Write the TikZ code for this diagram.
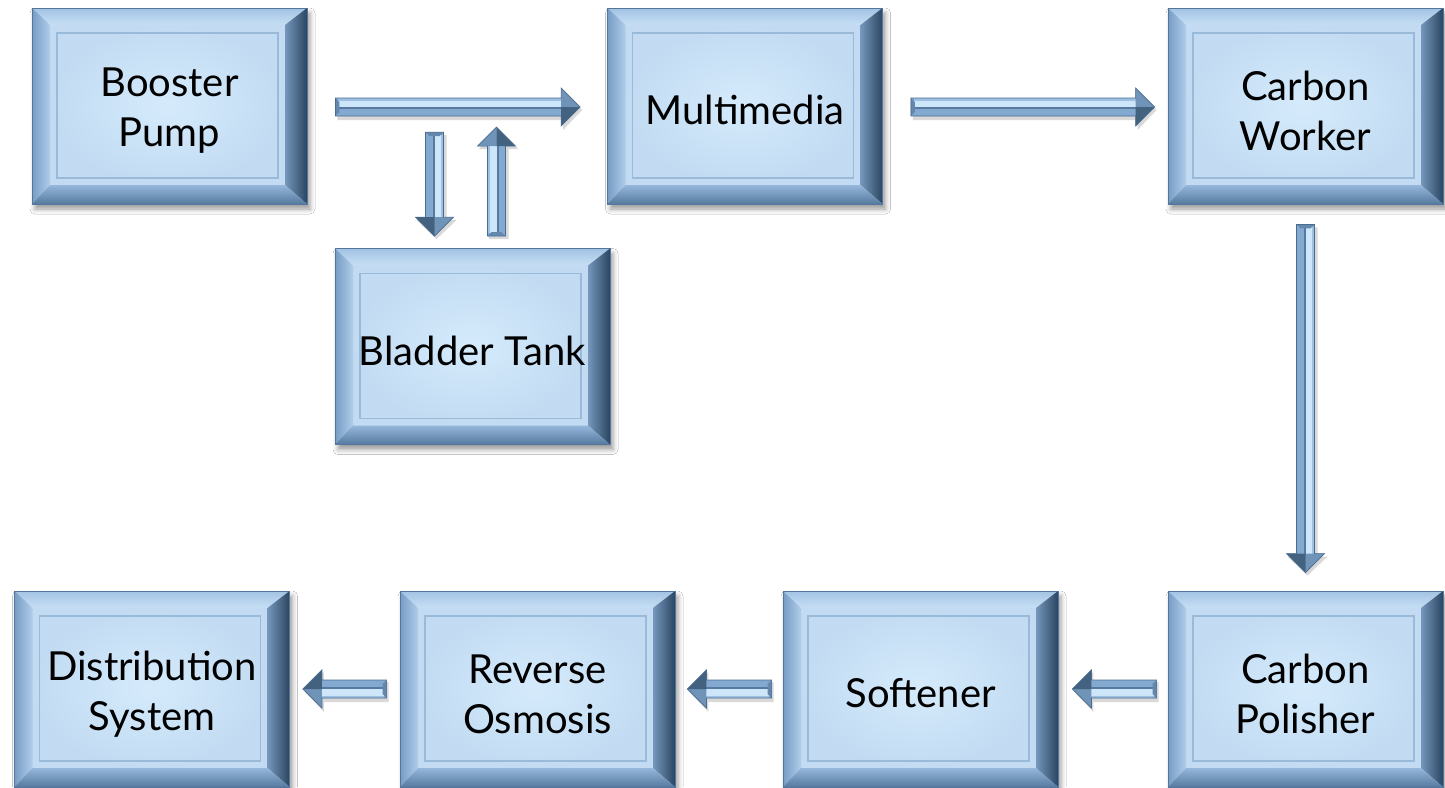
\documentclass[tikz,border=0pt]{standalone}
\usepackage{fontspec}
\setmainfont{Lato}
\usetikzlibrary{calc,shadows.blur}

% palette
\definecolor{faceHi}{HTML}{D5EBFC}
\definecolor{faceLo}{HTML}{C2DBF2}
\definecolor{frameLine}{HTML}{9ABAD9}
\definecolor{bevTopA}{HTML}{A3C3E4}
\definecolor{bevTopB}{HTML}{C6DFF5}
\definecolor{bevLeftA}{HTML}{779CC4}
\definecolor{bevLeftB}{HTML}{B0CDEB}
\definecolor{bevRightA}{HTML}{2B4561}
\definecolor{bevRightB}{HTML}{7597BB}
\definecolor{bevBotA}{HTML}{56799F}
\definecolor{bevBotB}{HTML}{95B7DB}
\definecolor{rimLine}{HTML}{55769C}
\definecolor{arrBase}{HTML}{84A9D0}
\definecolor{arrEdge}{HTML}{4A6C90}
\definecolor{arrBright}{HTML}{CDE6FA}
\definecolor{arrTopBand}{HTML}{9DC0E3}
\definecolor{arrDark}{HTML}{56799D}
\definecolor{arrHeadUp}{HTML}{7093B8}
\definecolor{arrHeadLo}{HTML}{42627F}
\definecolor{arrTail}{HTML}{6487AC}

\tikzset{
  panel/.style={
    minimum width=275pt, minimum height=196pt, inner sep=0pt,
    fill=faceLo, draw=rimLine, line width=0.8pt,
    blur shadow={shadow xshift=3pt, shadow yshift=-5pt,
                 shadow blur radius=5pt, shadow opacity=40},
    path picture={
      \coordinate (pNW) at (path picture bounding box.north west);
      \coordinate (pSE) at (path picture bounding box.south east);
      \coordinate (pNE) at (pNW -| pSE);
      \coordinate (pSW) at (pNW |- pSE);
      \coordinate (qNW) at ($(pNW)+(18pt,-17pt)$);
      \coordinate (qNE) at ($(pNE)+(-22pt,-17pt)$);
      \coordinate (qSE) at ($(pSE)+(-22pt,19pt)$);
      \coordinate (qSW) at ($(pSW)+(18pt,19pt)$);
      \shade[inner color=faceHi, outer color=faceLo] (qNW) rectangle (qSE);
      \shade[top color=bevTopA, bottom color=bevTopB]
        (pNW) -- (pNE) -- (qNE) -- (qNW) -- cycle;
      \shade[left color=bevLeftA, right color=bevLeftB]
        (pNW) -- (qNW) -- (qSW) -- (pSW) -- cycle;
      \shade[left color=bevRightB, right color=bevRightA]
        (pNE) -- (pSE) -- (qSE) -- (qNE) -- cycle;
      \shade[top color=bevBotB, bottom color=bevBotA]
        (pSW) -- (qSW) -- (qSE) -- (pSE) -- cycle;
      \draw[frameLine, line width=1.3pt]
        ($(qNW)+(7pt,-8pt)$) rectangle ($(qSE)+(-7pt,7pt)$);
    }
  },
  caption/.style={
    align=center, text=black, inner sep=0pt,
    font=\fontsize{40}{50}\selectfont
  }
}

% bevelled block arrow from a tail point to a tip point
\newcommand\flowarrow[2]{%
  \path (#1); \pgfgetlastxy{\fax}{\fay}%
  \path (#2); \pgfgetlastxy{\fbx}{\fby}%
  \pgfmathsetmacro\flen{veclen(\fbx-\fax,\fby-\fay)}%
  \pgfmathsetmacro\fang{atan2(\fby-\fay,\fbx-\fax)}%
  \pgfmathsetmacro\fbase{\flen-19}%
  \begin{scope}[xshift=2pt, yshift=-3pt, shift={(\fax,\fay)}, rotate=\fang]
    \fill[black, opacity=0.15]
      (0pt,10pt) -- (\fbase pt,10pt) -- (\fbase pt,20pt) -- (\flen pt,0pt)
      -- (\fbase pt,-20pt) -- (\fbase pt,-10pt) -- (0pt,-10pt) -- cycle;
  \end{scope}
  \begin{scope}[shift={(\fax,\fay)}, rotate=\fang]
    \fill[arrBase]
      (0pt,9pt) -- (\fbase pt,9pt) -- (\fbase pt,19pt) -- (\flen pt,0pt)
      -- (\fbase pt,-19pt) -- (\fbase pt,-9pt) -- (0pt,-9pt) -- cycle;
    \fill[arrTopBand] (3pt,6.5pt) rectangle (\fbase pt,9pt);
    \fill[arrBright] (3pt,0pt) rectangle (\fbase pt,6.5pt);
    \fill[arrDark] (3pt,-2pt) rectangle (\fbase pt,0pt);
    \fill[arrHeadUp] (\fbase pt,19pt) -- (\flen pt,0pt) -- (\fbase pt,0pt) -- cycle;
    \fill[arrHeadLo] (\fbase pt,-19pt) -- (\flen pt,0pt) -- (\fbase pt,0pt) -- cycle;
    \fill[arrTail] (0pt,9pt) -- (4pt,5pt) -- (4pt,-5pt) -- (0pt,-9pt) -- cycle;
    \draw[arrEdge, line width=0.7pt, line join=miter]
      (0pt,9pt) -- (\fbase pt,9pt) -- (\fbase pt,19pt) -- (\flen pt,0pt)
      -- (\fbase pt,-19pt) -- (\fbase pt,-9pt) -- (0pt,-9pt) -- cycle;
  \end{scope}}

\begin{document}
\begin{tikzpicture}[x=1pt, y=-1pt]
  \fill[white] (0,0) rectangle (1445,787);
  \useasboundingbox (0,0) rectangle (1445,787);

  % process stages
  \node[panel] (bp) at (169.5,106)   {};
  \node[panel] (mm) at (745,106)     {};
  \node[panel] (cw) at (1305.5,106)  {};
  \node[panel] (bt) at (472.5,346.5) {};
  \node[panel] (ds) at (152,689)     {};
  \node[panel] (ro) at (537.5,689)   {};
  \node[panel] (so) at (920.5,689)   {};
  \node[panel] (cp) at (1305.5,689)  {};

  % stage names, set slightly below each panel centre
  \node[caption] (bpText) at ($(bp.center)+(0,5)$) {Booster\\Pump};
  \node[caption] (mmText) at ($(mm.center)+(0,4)$) {Multimedia};
  \node[caption] (cwText) at ($(cw.center)+(0,5)$) {Carbon\\Worker};
  \node[caption] (btText) at ($(bt.center)+(0,4)$) {Bladder Tank};
  \node[caption] (dsText) at ($(ds.center)+(0,5)$) {Distribution\\System};
  \node[caption] (roText) at ($(ro.center)+(0,5)$) {Reverse\\Osmosis};
  \node[caption] (soText) at ($(so.center)+(0,4)$) {Softener};
  \node[caption] (cpText) at ($(cp.center)+(0,5)$) {Carbon\\Polisher};

  % flow between stages
  \flowarrow{$(bp.east)+(28,1)$}{$(mm.west)+(-27,1)$}
  \flowarrow{$(bt.north)+(-38,-116)$}{$(bt.north)+(-38,-12)$}
  \flowarrow{$(bt.north)+(24,-12)$}{$(bt.north)+(24,-121)$}
  \flowarrow{$(mm.east)+(28,1)$}{$(cw.west)+(-13,1)$}
  \flowarrow{$(cw.south)+(0,20)$}{$(cp.north)+(0,-18)$}
  \flowarrow{$(cp.west)+(-11,0)$}{$(so.east)+(14,0)$}
  \flowarrow{$(so.west)+(-11,0)$}{$(ro.east)+(12,0)$}
  \flowarrow{$(ro.west)+(-13,0)$}{$(ds.east)+(13,0)$}
\end{tikzpicture}
\end{document}
